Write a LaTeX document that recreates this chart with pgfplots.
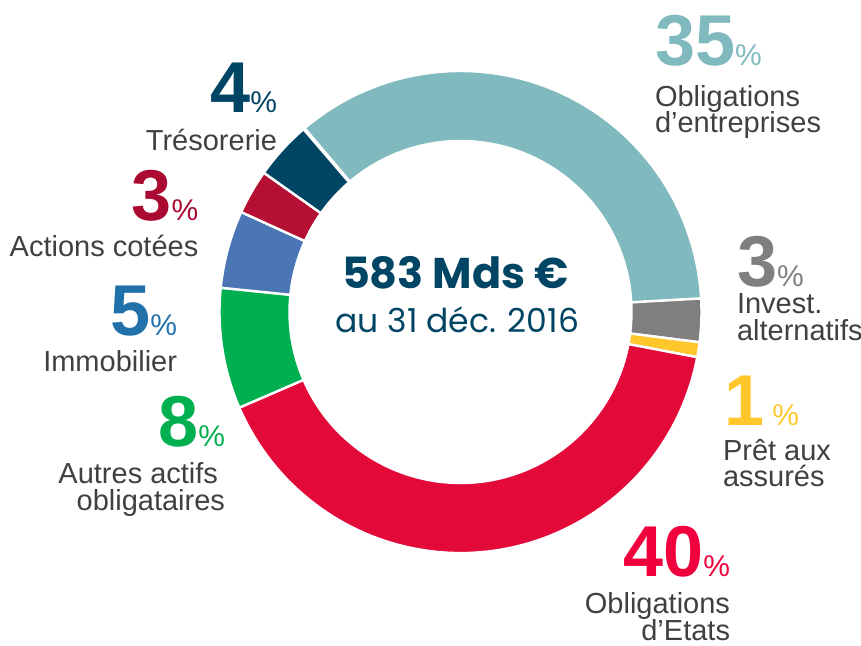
\documentclass[border=0pt]{standalone}
\usepackage{pgfplots}
\usepackage{pgfplotstable}
\pgfplotsset{compat=1.18}
\usepackage{fontspec}
\setmainfont{Liberation Sans}
\newfontfamily\pop{Poppins}

\definecolor{cTeal}{HTML}{80B9BE}
\definecolor{cGray}{HTML}{7F7F7F}
\definecolor{cYellow}{HTML}{FFC72C}
\definecolor{cRed}{HTML}{E30A3A}
\definecolor{cGreen}{HTML}{00B050}
\definecolor{cBlue}{HTML}{4A76B5}
\definecolor{cCrimson}{HTML}{B50F33}
\definecolor{cDark}{HTML}{004563}
\definecolor{lRed}{HTML}{F0003C}
\definecolor{lBlue}{HTML}{2371AB}
\definecolor{lCrimson}{HTML}{AA0A32}
\definecolor{txt}{HTML}{404040}

% share of each slice (percent), clockwise from the top-left
\pgfplotstableread{
value color
35.3 cTeal
2.9  cGray
1.0  cYellow
40.5 cRed
8.1  cGreen
5.2  cBlue
3.0  cCrimson
3.9  cDark
}\donut

\newcommand{\pct}[2]{{\bfseries\fontsize{36}{36}\selectfont #1}{\fontsize{15}{15}\selectfont #2}}
\newcommand{\lab}{\fontsize{14.5}{14.5}\selectfont\color{txt}}
\tikzset{lb/.style={inner sep=0pt, outer sep=0pt}}

\begin{document}
\begin{tikzpicture}
\begin{axis}[
    hide axis, scale only axis,
    width=430.5pt, height=322.5pt,
    xmin=0, xmax=861, ymin=0, ymax=645,
    clip=false, at={(0,0)}, anchor=origin,
]
\pgfplotstablegetrowsof{\donut}
\pgfmathtruncatemacro\N{\pgfplotsretval-1}
\gdef\angA{130.3}
\pgfplotsforeachungrouped \i in {0,...,\N}{%
  \pgfplotstablegetelem{\i}{value}\of\donut \let\myval\pgfplotsretval
  \pgfplotstablegetelem{\i}{color}\of\donut \let\mycol\pgfplotsretval
  \pgfmathsetmacro\angB{\angA-3.6*\myval}
  \pgfmathsetmacro\xa{460.5+241*cos(\angA)}
  \pgfmathsetmacro\ya{333+241*sin(\angA)}
  \pgfmathsetmacro\xb{460.5+171*cos(\angB)}
  \pgfmathsetmacro\yb{333+171*sin(\angB)}
  \edef\temp{\noexpand\fill[\mycol, draw=white, line width=1.2pt]
    (axis cs:\xa,\ya) arc[start angle=\angA, end angle=\angB, radius=120.5pt]
    -- (axis cs:\xb,\yb) arc[start angle=\angB, end angle=\angA, radius=85.5pt] -- cycle;}
  \temp
  \global\let\angA\angB
}

% centre
\node[lb, anchor=base, text=cDark] at (axis cs:455.5,356.7)
  {\pop\bfseries\fontsize{21.5}{21.5}\selectfont 583 Mds €};
\node[lb, anchor=base, text=cDark] at (axis cs:457.3,312.3)
  {\pop\fontsize{16.5}{16.5}\selectfont au 31 déc. 2016};

% right side labels
\node[lb, anchor=base west, text=cTeal] at (axis cs:655,580) {\pct{35}{\%}};
\node[lb, anchor=base west] at (axis cs:655,539) {\lab Obligations};
\node[lb, anchor=base west] at (axis cs:655,512.3) {\lab d’entreprises};

\node[lb, anchor=base west, text=cGray] at (axis cs:737,358.3) {\pct{3}{\%}};
\node[lb, anchor=base west] at (axis cs:737,331.7) {\lab Invest.};
\node[lb, anchor=base west] at (axis cs:737,305) {\lab alternatifs};

\node[lb, anchor=base west, text=cYellow] at (axis cs:724,220) {\pct{1}{\ \%}};
\node[lb, anchor=base west] at (axis cs:723,185) {\lab Prêt aux};
\node[lb, anchor=base west] at (axis cs:723,158.3) {\lab assurés};

\node[lb, anchor=base east, text=lRed] at (axis cs:730,68.3) {\pct{40}{\%}};
\node[lb, anchor=base east] at (axis cs:730,31.7) {\lab Obligations};
\node[lb, anchor=base east] at (axis cs:730,5) {\lab d’Etats};

% left side labels
\node[lb, anchor=base east, text=cDark] at (axis cs:277,533) {\pct{4}{\%}};
\node[lb, anchor=base east] at (axis cs:277,495) {\lab Trésorerie};

\node[lb, anchor=base east, text=lCrimson] at (axis cs:198.3,424.3) {\pct{3}{\%}};
\node[lb, anchor=base east] at (axis cs:198.3,388.3) {\lab Actions cotées};

\node[lb, anchor=base east, text=lBlue] at (axis cs:177,310) {\pct{5}{\%}};
\node[lb, anchor=base east] at (axis cs:177,273.3) {\lab Immobilier};

\node[lb, anchor=base east, text=cGreen] at (axis cs:225,198.3) {\pct{8}{\%}};
\node[lb, anchor=base east] at (axis cs:218,161.7) {\lab Autres actifs};
\node[lb, anchor=base east] at (axis cs:225,135) {\lab obligataires};
\end{axis}
\pgfresetboundingbox
\path (0,0) rectangle (430.5pt,322.5pt);
\end{tikzpicture}
\end{document}
